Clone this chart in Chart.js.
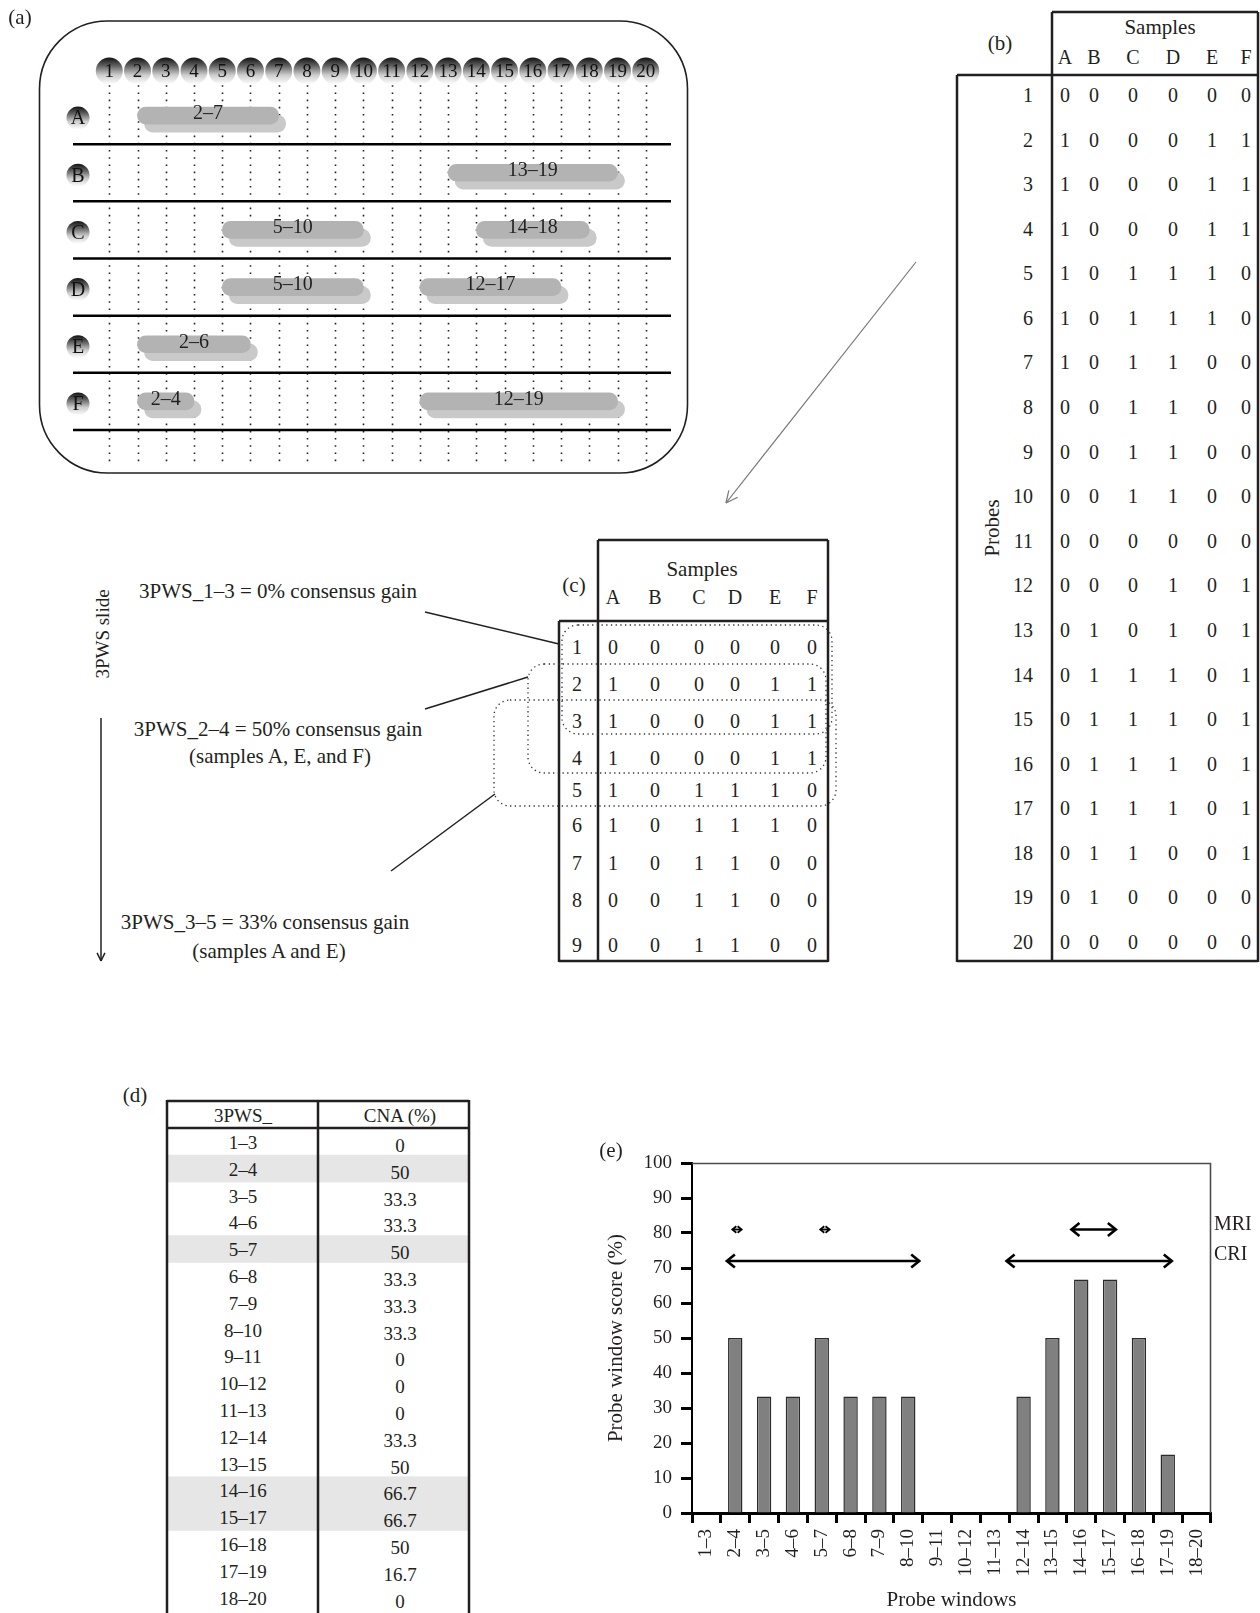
<!DOCTYPE html>
<html>
<head>
<meta charset="utf-8">
<title>Probe window sliding scores</title>
<script src="https://cdn.jsdelivr.net/npm/chart.js@4.4.1/dist/chart.umd.min.js"></script>
<style>
  body { margin: 0; background: #fff; }
  #page { position: relative; width: 1260px; height: 1613px; overflow: hidden;
          font-family: "Liberation Serif", "DejaVu Serif", serif; color: #231f20; }
  #page canvas, #page svg { position: absolute; }
  .t { position: absolute; white-space: nowrap; line-height: 1; }
</style>
</head>
<body>
<div id="page">
  <svg id="deco" width="1260" height="1613" style="left:0;top:0"></svg>
  <canvas id="chartA" width="700" height="480" style="left:0;top:0"></canvas>
  <canvas id="chartE" width="680" height="483" style="left:580px;top:1130px"></canvas>
</div>
<script>
// ---- data ----
const samples = ['A', 'B', 'C', 'D', 'E', 'F'];
const probes = [1, 2, 3, 4, 5, 6, 7, 8, 9, 10, 11, 12, 13, 14, 15, 16, 17, 18, 19, 20];

// gained segments per sample (probe start / end)
const firstSegStart  = [2, 13, 5, 5, 2, 2];
const firstSegEnd    = [7, 19, 10, 10, 6, 4];
const secondSegStart = [null, null, 14, 12, null, 12];
const secondSegEnd   = [null, null, 18, 17, null, 19];

// probes x samples (1 = gain)
const probeMatrix = [
  [0, 0, 0, 0, 0, 0], [1, 0, 0, 0, 1, 1], [1, 0, 0, 0, 1, 1], [1, 0, 0, 0, 1, 1],
  [1, 0, 1, 1, 1, 0], [1, 0, 1, 1, 1, 0], [1, 0, 1, 1, 0, 0], [0, 0, 1, 1, 0, 0],
  [0, 0, 1, 1, 0, 0], [0, 0, 1, 1, 0, 0], [0, 0, 0, 0, 0, 0], [0, 0, 0, 1, 0, 1],
  [0, 1, 0, 1, 0, 1], [0, 1, 1, 1, 0, 1], [0, 1, 1, 1, 0, 1], [0, 1, 1, 1, 0, 1],
  [0, 1, 1, 1, 0, 1], [0, 1, 1, 0, 0, 1], [0, 1, 0, 0, 0, 0], [0, 0, 0, 0, 0, 0]
];
const slideRows = 9; // rows shown in panel (c)

const windows = ['1–3', '2–4', '3–5', '4–6', '5–7', '6–8', '7–9', '8–10', '9–11',
  '10–12', '11–13', '12–14', '13–15', '14–16', '15–17', '16–18', '17–19', '18–20'];
const cna = [0, 50, 33.3, 33.3, 50, 33.3, 33.3, 33.3, 0, 0, 0, 33.3, 50, 66.7, 66.7, 50, 16.7, 0];
const peakWindows = ['2–4', '5–7', '14–16', '15–17'];

// region arrows in window-index units
const criLevel = 72;
const criSpans = [[0.71, 7.38], [10.41, 16.14]];
const mriLevel = 81;
const mriSpans = [[0.9, 1.22], [3.95, 4.27], [12.66, 14.2]];

const ink = '#231f20';
const serif = '"Liberation Serif", "DejaVu Serif", serif';
Chart.defaults.font.family = serif;
Chart.defaults.color = ink;

// ---- helpers for text and static lines ----
const page = document.getElementById('page');
function put(text, x, y, size, opts = {}) {
  const d = document.createElement('div');
  d.className = 't';
  d.textContent = text;
  d.style.fontSize = size + 'px';
  d.style.left = x + 'px';
  d.style.top = y + 'px';
  const ax = opts.align === 'right' ? '-100%' : opts.align === 'left' ? '0' : '-50%';
  d.style.transform = `translate(${ax}, -50%)` + (opts.rotate ? ` rotate(${opts.rotate}deg)` : '');
  page.appendChild(d);
}
let svg = '';
function line(x1, y1, x2, y2, w = 2.5, c = ink, extra = '') {
  svg += `<line x1="${x1}" y1="${y1}" x2="${x2}" y2="${y2}" stroke="${c}" stroke-width="${w}" ${extra}/>`;
}
function head(x1, y1, x2, y2, len, c, w) {
  const a = Math.atan2(y2 - y1, x2 - x1);
  [0.45, -0.45].forEach(d => {
    line(x2, y2, x2 - len * Math.cos(a + d), y2 - len * Math.sin(a + d), w, c);
  });
}

// ---- panel (a) frame ----
put('(a)', 20, 17, 21);
svg += `<rect x="39.5" y="21" width="648" height="452" rx="68" ry="68" fill="none" stroke="${ink}" stroke-width="1.6"/>`;

// ---- panel (b) ----
put('(b)', 1000, 43, 21);
put('Samples', 1160, 27, 21);
const colB = [1065, 1094, 1133, 1173, 1212, 1246];
samples.forEach((s, j) => put(s, colB[j], 57, 20));
probeMatrix.forEach((row, i) => {
  const y = 95 + i * 44.58;
  put(String(probes[i]), 1033, y, 20, { align: 'right' });
  row.forEach((v, j) => put(String(v), colB[j], y, 20));
});
put('Probes', 992, 528, 21, { rotate: -90 });
line(1052, 12, 1258, 12);
line(1052, 12, 1052, 962);
line(1258, 12, 1258, 962);
line(957, 75, 1258, 75);
line(957, 75, 957, 962);
line(957, 961, 1258, 961);

// arrow from (b) to (c)
line(916, 262, 726, 503, 1.2, '#777');
head(916, 262, 726, 503, 13, '#777', 1.2);

// ---- panel (c) ----
put('(c)', 574, 585, 21);
put('Samples', 702, 569, 21);
const colC = [613, 655, 699, 735, 775, 812];
const rowC = [647, 684, 721, 758, 790, 825, 863, 900, 945];
samples.forEach((s, j) => put(s, colC[j], 597, 20));
probeMatrix.slice(0, slideRows).forEach((row, i) => {
  put(String(probes[i]), 577, rowC[i], 20);
  row.forEach((v, j) => put(String(v), colC[j], rowC[i], 20));
});
line(598, 540, 828, 540);
line(598, 540, 598, 962);
line(828, 540, 828, 962);
line(559, 621, 828, 621);
line(559, 621, 559, 962);
line(559, 961, 828, 961);
const dots = 'stroke-dasharray="1.3 3.4" fill="none"';
svg += `<rect x="562" y="625" width="270" height="109" rx="16" stroke="#333" stroke-width="1.3" ${dots}/>`;
svg += `<rect x="528" y="664" width="298" height="109" rx="16" stroke="#333" stroke-width="1.3" ${dots}/>`;
svg += `<rect x="494" y="700" width="342" height="106" rx="16" stroke="#333" stroke-width="1.3" ${dots}/>`;
line(425, 612, 559, 644, 1.5);
line(425, 709, 528, 677, 1.5);
line(391, 871, 495, 794, 1.5);
put('3PWS_1–3 = 0% consensus gain', 278, 591, 21);
put('3PWS_2–4 = 50% consensus gain', 278, 729, 21);
put('(samples A, E, and F)', 280, 756, 21);
put('3PWS_3–5 = 33% consensus gain', 265, 922, 21);
put('(samples A and E)', 269, 951, 21);
put('3PWS slide', 102, 634, 19, { rotate: -90 });
line(101, 718, 101, 961, 1.5);
head(101, 718, 101, 961, 9, ink, 1.5);

// ---- panel (d) ----
put('(d)', 135, 1095, 21);
windows.forEach((w, i) => {
  const y = 1142 + i * 26.8;
  if (peakWindows.includes(w)) {
    svg += `<rect x="167" y="${y - 14}" width="302" height="27.6" fill="#e6e6e6"/>`;
  }
});
line(167, 1101, 469, 1101);
line(167, 1128, 469, 1128);
line(167, 1100, 167, 1613);
line(318, 1100, 318, 1613);
line(469, 1100, 469, 1613);
put('3PWS_', 243, 1115, 19);
put('CNA (%)', 400, 1115, 19);
windows.forEach((w, i) => {
  const y = 1142 + i * 26.8;
  put(w, 243, y, 19);
  put(String(cna[i]), 400, y + 3, 19);
});

// ---- panel (e) label ----
put('(e)', 611, 1150, 21);

document.getElementById('deco').innerHTML = svg;

// ---- panel (a) chart: gained segments per sample ----
function ball(ctx, x, y, r) {
  const g = ctx.createLinearGradient(0, y - r, 0, y + r);
  g.addColorStop(0, '#111111');
  g.addColorStop(0.3, '#5f5f5f');
  g.addColorStop(0.65, '#cdcdcd');
  g.addColorStop(1, '#ffffff');
  ctx.fillStyle = g;
  ctx.beginPath();
  ctx.arc(x, y, r, 0, Math.PI * 2);
  ctx.fill();
}

const segmentPlugin = {
  id: 'segmentDecor',
  beforeDatasetsDraw(chart) {
    const { ctx, chartArea: a, scales: { x, y } } = chart;
    ctx.save();
    ctx.strokeStyle = '#222';
    ctx.lineWidth = 1.6;
    ctx.setLineDash([1.6, 5.6]);
    probes.forEach(p => {
      const px = Math.round(x.getPixelForValue(p)) + 0.5;
      ctx.beginPath();
      ctx.moveTo(px, a.top - 9);
      ctx.lineTo(px, a.bottom + 33);
      ctx.stroke();
    });
    ctx.setLineDash([]);
    ctx.strokeStyle = '#000';
    ctx.lineWidth = 2.5;
    samples.forEach((s, i) => {
      const py = y.getPixelForValue(i + 0.5);
      ctx.beginPath();
      ctx.moveTo(a.left, py);
      ctx.lineTo(a.right, py);
      ctx.stroke();
    });
    ctx.restore();
    // bar shadows
    ctx.save();
    ctx.shadowColor = '#c9c9c9';
    ctx.shadowOffsetX = 7;
    ctx.shadowOffsetY = 8;
    ctx.shadowBlur = 0;
  },
  afterDatasetsDraw(chart) {
    const { ctx } = chart;
    ctx.restore();
    ctx.save();
    ctx.fillStyle = ink;
    ctx.font = '20px ' + serif;
    ctx.textAlign = 'center';
    ctx.textBaseline = 'middle';
    chart.data.datasets.forEach((ds, di) => {
      chart.getDatasetMeta(di).data.forEach((bar, i) => {
        const v = ds.data[i];
        if (!v) return;
        ctx.fillText(`${v[0]}–${v[1]}`, (bar.x + bar.base) / 2, bar.y - 2);
      });
    });
    ctx.restore();
  },
  afterDraw(chart) {
    const { ctx, chartArea: a, scales: { x, y } } = chart;
    ctx.save();
    ctx.textAlign = 'center';
    ctx.textBaseline = 'middle';
    probes.forEach(p => {
      const px = x.getPixelForValue(p);
      ball(ctx, px, a.top - 16, 13.5);
      ctx.fillStyle = '#111';
      ctx.font = '19px ' + serif;
      ctx.fillText(String(p), px, a.top - 15);
    });
    samples.forEach((s, i) => {
      const py = y.getPixelForValue(i) + 2.5;
      ball(ctx, a.left + 5, py, 11.5);
      ctx.fillStyle = '#111';
      ctx.font = '20px ' + serif;
      ctx.fillText(s, a.left + 5, py + 1);
    });
    ctx.restore();
  }
};

new Chart(document.getElementById('chartA'), {
  type: 'bar',
  data: {
    labels: samples,
    datasets: [
      { data: firstSegStart.map((s, i) => s == null ? null : [s, firstSegEnd[i]]) },
      { data: secondSegStart.map((s, i) => s == null ? null : [s, secondSegEnd[i]]) }
    ].map(d => Object.assign(d, {
      backgroundColor: '#b3b3b3', borderWidth: 0, borderSkipped: false,
      borderRadius: 9, barThickness: 17, grouped: false
    }))
  },
  options: {
    indexAxis: 'y',
    responsive: false,
    animation: false,
    devicePixelRatio: 1,
    events: [],
    layout: { padding: { left: 73, top: 87, right: 29, bottom: 50 } },
    plugins: { legend: { display: false }, tooltip: { enabled: false } },
    scales: {
      x: { type: 'linear', min: -0.285, max: 20.894, offset: false, display: false },
      y: { type: 'category', display: false }
    }
  },
  plugins: [segmentPlugin]
});

// ---- panel (e) chart: probe window scores ----
const arrowPlugin = {
  id: 'regionArrows',
  afterDatasetsDraw(chart) {
    const { ctx, chartArea: a, scales: { y } } = chart;
    ctx.save();
    ctx.strokeStyle = '#000';
    chart.data.datasets.forEach((ds, di) => {
      if (ds.type !== 'line') return;
      const pts = chart.getDatasetMeta(di).data;
      const h = ds.headSize;
      ctx.lineWidth = ds.borderWidth;
      [[pts[0], 1], [pts[pts.length - 1], -1]].forEach(([p, dir]) => {
        ctx.beginPath();
        ctx.moveTo(p.x + dir * h, p.y - h * 0.8);
        ctx.lineTo(p.x, p.y);
        ctx.lineTo(p.x + dir * h, p.y + h * 0.8);
        ctx.stroke();
      });
    });
    // thin frame on top and right
    ctx.strokeStyle = '#4d4d4d';
    ctx.lineWidth = 1.6;
    ctx.beginPath();
    ctx.moveTo(a.left, a.top + 0.5);
    ctx.lineTo(a.right - 0.5, a.top + 0.5);
    ctx.lineTo(a.right - 0.5, a.bottom);
    ctx.stroke();
    ctx.fillStyle = ink;
    ctx.font = '20px ' + serif;
    ctx.textAlign = 'left';
    ctx.textBaseline = 'middle';
    ctx.fillText('MRI', a.right + 3, y.getPixelForValue(mriLevel) - 5);
    ctx.fillText('CRI', a.right + 3, y.getPixelForValue(criLevel) - 6);
    ctx.restore();
  }
};

const arrowSets = [
  ...criSpans.map(s => ({ span: s, level: criLevel, head: 8 })),
  ...mriSpans.map(s => ({ span: s, level: mriLevel, head: s[1] - s[0] < 0.5 ? 4 : 8 }))
].map(a => ({
  type: 'line',
  xAxisID: 'xi',
  data: [{ x: a.span[0], y: a.level }, { x: a.span[1], y: a.level }],
  borderColor: '#000',
  borderWidth: a.head < 8 ? 1.8 : 2.6,
  pointRadius: 0,
  fill: false,
  headSize: a.head
}));

new Chart(document.getElementById('chartE'), {
  type: 'bar',
  data: {
    labels: windows,
    datasets: [
      {
        type: 'bar',
        data: cna,
        backgroundColor: '#808080',
        borderColor: '#2b2b2b',
        borderWidth: 1.5,
        grouped: false,
        barPercentage: 0.5,
        categoryPercentage: 1.0
      },
      ...arrowSets
    ]
  },
  options: {
    responsive: false,
    animation: false,
    devicePixelRatio: 1,
    events: [],
    layout: { padding: { left: 0, right: 49, top: 33, bottom: 0 } },
    plugins: { legend: { display: false }, tooltip: { enabled: false } },
    scales: {
      x: {
        type: 'category',
        offset: true,
        grid: { display: true, offset: true, drawOnChartArea: false, drawTicks: true,
                tickLength: 10, tickWidth: 3, tickColor: '#000', color: '#000' },
        border: { display: true, color: '#000', width: 3 },
        ticks: { autoSkip: false, minRotation: 90, maxRotation: 90, padding: 6,
                 color: ink, font: { size: 19 } },
        title: { display: true, text: 'Probe windows', color: ink, font: { size: 21 },
                 padding: { top: 0, bottom: 0 } },
        afterFit: s => { s.height = 100; }
      },
      xi: { type: 'linear', min: -0.5, max: 17.5, offset: false, grid: { offset: false }, display: false },
      y: {
        min: 0,
        max: 100,
        ticks: { stepSize: 10, padding: 9, color: ink, font: { size: 19 } },
        grid: { drawOnChartArea: false, drawTicks: true, tickLength: 11, tickWidth: 3,
                tickColor: '#000', color: '#000' },
        border: { display: true, color: '#000', width: 2 },
        title: { display: true, text: 'Probe window score (%)', color: ink,
                 font: { size: 21 }, padding: { top: 24, bottom: 0 } },
        afterFit: s => { s.width = 112; }
      }
    }
  },
  plugins: [arrowPlugin]
});
</script>
</body>
</html>
